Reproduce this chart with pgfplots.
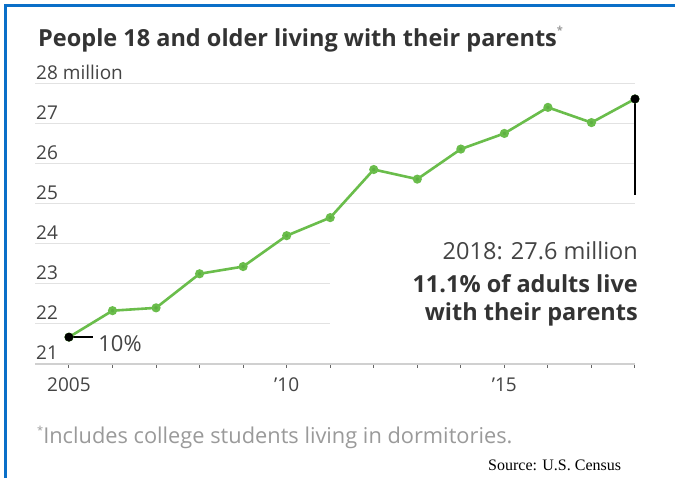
\documentclass[border=0pt]{standalone}
\usepackage{pgfplots}
\pgfplotsset{compat=1.18}
\usepackage{fontspec}
\setmainfont{Open Sans}
\newfontfamily\srcfont{Liberation Serif}
\definecolor{wsjblue}{HTML}{0A6FC8}
\definecolor{linegreen}{HTML}{6ABD4B}
\definecolor{markgreen}{HTML}{5EAF42}
\definecolor{gridc}{HTML}{E2E2E2}
\definecolor{axisc}{HTML}{D0D0D0}
\definecolor{tickc}{HTML}{666666}
\definecolor{labc}{HTML}{444444}
\definecolor{titlec}{HTML}{333333}
\definecolor{footc}{HTML}{9A9A9A}
\begin{document}
\begin{tikzpicture}[x=1pt,y=1pt]
\useasboundingbox (0,0) rectangle (675,478);
\fill[white] (0,0) rectangle (675,478);
\fill[wsjblue] (4,0) rectangle (7,474);
\fill[wsjblue] (4,471) rectangle (675,474);
% title
\node[anchor=base west, inner sep=0pt, text=titlec, font=\fontsize{23.5}{27}\selectfont\bfseries] at (38,431) {People 18 and older living with their parents\textcolor{footc}{\raisebox{0.55em}{\fontsize{11}{12}\selectfont *}}};
\begin{axis}[
  at={(35pt,114pt)}, anchor=south west, scale only axis,
  width=600pt, height=280.7pt,
  xmin=2004.22, xmax=2018, ymin=21, ymax=28,
  clip=false,
  axis x line*=bottom, axis y line*=left,
  y axis line style={draw=none},
  x axis line style={draw=axisc, line width=1.5pt},
  xtick={2005,...,2018},
  xticklabels={2005,,,,,’10,,,,,’15,,,},
  xtick style={draw=tickc, line width=1pt},
  major tick length=4pt,
  tick align=outside,
  ytick={21,...,28},
  yticklabels={21,22,23,24,25,26,27,28 million},
  ytick style={draw=none},
  tick label style={font=\fontsize{19}{22}\selectfont, text=labc, inner sep=0pt},
  yticklabel style={anchor=base west, xshift=5pt, yshift=4pt},
  xticklabel style={anchor=base, yshift=-24pt},
]
\pgfplotsinvokeforeach{25,26,27,28}{
  \draw[gridc, line width=1.2pt] (axis cs:2004.22,#1) -- (axis cs:2018,#1);
}
\pgfplotsinvokeforeach{22,23,24}{
  \draw[gridc, line width=1.2pt] (axis cs:2004.22,#1) -- (axis cs:2010.99,#1);
}
\addplot[linegreen, line width=2.6pt, mark=*, mark size=3.2pt, mark options={fill=markgreen, draw=none}] coordinates {
(2005,21.67) (2006,22.33) (2007,22.40) (2008,23.25) (2009,23.43)
(2010,24.20) (2011,24.65) (2012,25.85) (2013,25.61) (2014,26.36)
(2015,26.75) (2016,27.40) (2017,27.02) (2018,27.61)
};
\draw[black, line width=1.3pt] (axis cs:2005,21.67) -- (axis cs:2005.55,21.67);
\draw[black, line width=1.3pt] (axis cs:2018,27.61) -- (axis cs:2018,25.21);
\addplot[only marks, mark=*, mark size=4.2pt, black] coordinates {(2005,21.67) (2018,27.61)};
\node[anchor=north west, inner sep=0pt, text=labc, font=\fontsize{22}{26}\selectfont] at (axis cs:2005.67,21.71) {10\%};
\end{axis}
% annotation
\node[anchor=base east, inner sep=0pt, text=labc, font=\fontsize{23.5}{27}\selectfont] at (638,218) {2018: 27.6 million};
\node[anchor=base east, inner sep=0pt, text=titlec, font=\fontsize{23.5}{27}\selectfont\bfseries] at (638,185) {11.1\% of adults live};
\node[anchor=base east, inner sep=0pt, text=titlec, font=\fontsize{23.5}{27}\selectfont\bfseries] at (638,157) {with their parents};
% footnote
\node[anchor=base west, inner sep=0pt, text=footc, font=\fontsize{21.8}{24}\selectfont] at (37,34) {\raisebox{0.45em}{\fontsize{11}{12}\selectfont *}Includes college students living in dormitories.};
\node[anchor=base west, inner sep=0pt, text=black, font=\fontsize{16}{18}\selectfont\srcfont] at (488,7) {Source: U.S. Census};
\end{tikzpicture}
\end{document}
